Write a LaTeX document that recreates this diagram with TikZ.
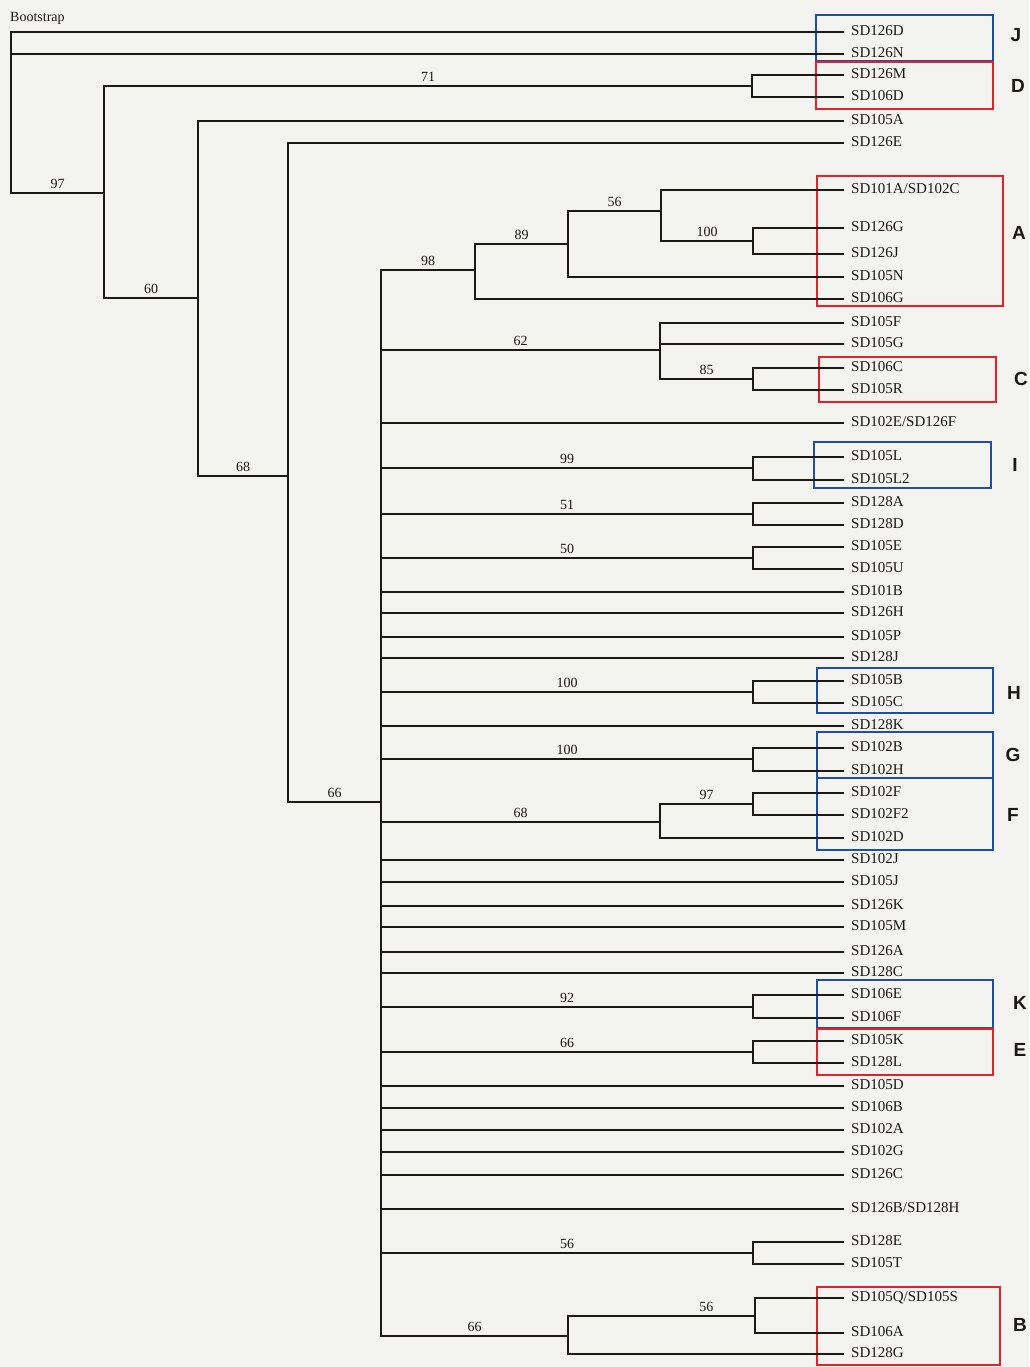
\documentclass[tikz,border=0pt]{standalone}
\usepackage{fontspec}
\setmainfont{Liberation Serif}
\setsansfont{Liberation Sans}
\definecolor{bg}{RGB}{243,244,240}
\definecolor{grpblue}{RGB}{35,78,160}
\definecolor{grpred}{RGB}{228,32,42}
\definecolor{ink}{RGB}{28,24,20}
\begin{document}
\begin{tikzpicture}[x=1pt,y=-1pt]
\tikzset{
  br/.style={draw=ink, line width=2.4pt, line cap=rect},
  leaf/.style={anchor=west, inner xsep=8pt, inner ysep=0pt, text height=0.66em, text depth=0pt, text=ink, font=\fontsize{15}{17}\selectfont},
  bs/.style={above, inner sep=3pt, text=ink, font=\fontsize{14}{16}\selectfont},
  grp/.style={text=ink, font=\sffamily\bfseries\fontsize{19}{21}\selectfont},
  bluebox/.style={draw=grpblue, line width=2.2pt},
  redbox/.style={draw=grpred, line width=2.2pt},
}
\useasboundingbox (0,0) rectangle (1029,1367);
\fill[bg] (0,0) rectangle (1029,1367);

\node[anchor=west, inner sep=0pt, text=ink, font=\fontsize{14}{16}\selectfont] (boot) at (10,18) {Bootstrap};

% group boxes
\draw[bluebox] (816,15) rectangle (993,61);
\draw[redbox]  (816,62) rectangle (993,109);
\draw[redbox]  (817,176) rectangle (1003,306);
\draw[redbox]  (819,357) rectangle (996,402);
\draw[bluebox] (814,442) rectangle (991,488);
\draw[bluebox] (817,668) rectangle (993,713);
\draw[bluebox] (817,732) rectangle (993,778);
\draw[bluebox] (817,778) rectangle (993,850);
\draw[bluebox] (817,980) rectangle (993,1028);
\draw[redbox]  (817,1029) rectangle (993,1075);
\draw[redbox]  (817,1287) rectangle (1000,1365);

\node[grp] (gJ) at (1016,35) {J};
\node[grp] (gD) at (1018,86) {D};
\node[grp] (gA) at (1019,233) {A};
\node[grp] (gC) at (1021,379) {C};
\node[grp] (gI) at (1015,465) {I};
\node[grp] (gH) at (1014,693) {H};
\node[grp] (gG) at (1013,755) {G};
\node[grp] (gF) at (1013,815) {F};
\node[grp] (gK) at (1020,1003) {K};
\node[grp] (gE) at (1020,1050) {E};
\node[grp] (gB) at (1020,1325) {B};

% internal nodes
\coordinate (root) at (11,32);
\coordinate (n97) at (104,193);
\coordinate (n71) at (752,86);
\coordinate (n60) at (198,298);
\coordinate (n68) at (288,476);
\coordinate (n66) at (381,802);
\coordinate (n98) at (475,270);
\coordinate (n89) at (568,244);
\coordinate (n56a) at (661,211);
\coordinate (n100a) at (753,241);
\coordinate (n62) at (660,350);
\coordinate (n85) at (753,379);
\coordinate (n99) at (753,468);
\coordinate (n51) at (753,514);
\coordinate (n50) at (753,558);
\coordinate (nH) at (753,692);
\coordinate (nG) at (753,759);
\coordinate (n68b) at (660,822);
\coordinate (n97b) at (753,804);
\coordinate (nK) at (753,1007);
\coordinate (nE) at (753,1052);
\coordinate (n56c) at (753,1253);
\coordinate (n66b) at (568,1336);
\coordinate (n56d) at (755,1316);

% leaves
\node[leaf] (SD126D) at (843,32) {SD126D};
\node[leaf] (SD126N) at (843,54) {SD126N};
\node[leaf] (SD126M) at (843,75) {SD126M};
\node[leaf] (SD106D) at (843,97) {SD106D};
\node[leaf] (SD105A) at (843,121) {SD105A};
\node[leaf] (SD126E) at (843,143) {SD126E};
\node[leaf] (SD101A) at (843,190) {SD101A/SD102C};
\node[leaf] (SD126G) at (843,228) {SD126G};
\node[leaf] (SD126J) at (843,254) {SD126J};
\node[leaf] (SD105N) at (843,277) {SD105N};
\node[leaf] (SD106G) at (843,299) {SD106G};
\node[leaf] (SD105F) at (843,323) {SD105F};
\node[leaf] (SD105G) at (843,344) {SD105G};
\node[leaf] (SD106C) at (843,368) {SD106C};
\node[leaf] (SD105R) at (843,390) {SD105R};
\node[leaf] (SD102E) at (843,423) {SD102E/SD126F};
\node[leaf] (SD105L) at (843,457) {SD105L};
\node[leaf] (SD105L2) at (843,480) {SD105L2};
\node[leaf] (SD128A) at (843,503) {SD128A};
\node[leaf] (SD128D) at (843,525) {SD128D};
\node[leaf] (SD105E) at (843,547) {SD105E};
\node[leaf] (SD105U) at (843,569) {SD105U};
\node[leaf] (SD101B) at (843,592) {SD101B};
\node[leaf] (SD126H) at (843,613) {SD126H};
\node[leaf] (SD105P) at (843,637) {SD105P};
\node[leaf] (SD128J) at (843,658) {SD128J};
\node[leaf] (SD105B) at (843,681) {SD105B};
\node[leaf] (SD105C) at (843,703) {SD105C};
\node[leaf] (SD128K) at (843,726) {SD128K};
\node[leaf] (SD102B) at (843,748) {SD102B};
\node[leaf] (SD102H) at (843,771) {SD102H};
\node[leaf] (SD102F) at (843,793) {SD102F};
\node[leaf] (SD102F2) at (843,815) {SD102F2};
\node[leaf] (SD102D) at (843,838) {SD102D};
\node[leaf] (SD102J) at (843,860) {SD102J};
\node[leaf] (SD105J) at (843,882) {SD105J};
\node[leaf] (SD126K) at (843,906) {SD126K};
\node[leaf] (SD105M) at (843,927) {SD105M};
\node[leaf] (SD126A) at (843,952) {SD126A};
\node[leaf] (SD128C) at (843,973) {SD128C};
\node[leaf] (SD106E) at (843,995) {SD106E};
\node[leaf] (SD106F) at (843,1018) {SD106F};
\node[leaf] (SD105K) at (843,1041) {SD105K};
\node[leaf] (SD128L) at (843,1063) {SD128L};
\node[leaf] (SD105D) at (843,1086) {SD105D};
\node[leaf] (SD106B) at (843,1108) {SD106B};
\node[leaf] (SD102A) at (843,1130) {SD102A};
\node[leaf] (SD102G) at (843,1152) {SD102G};
\node[leaf] (SD126C) at (843,1175) {SD126C};
\node[leaf] (SD126B) at (843,1209) {SD126B/SD128H};
\node[leaf] (SD128E) at (843,1242) {SD128E};
\node[leaf] (SD105T) at (843,1264) {SD105T};
\node[leaf] (SD105Q) at (843,1298) {SD105Q/SD105S};
\node[leaf] (SD106A) at (843,1333) {SD106A};
\node[leaf] (SD128G) at (843,1354) {SD128G};

% branches
\draw[br] (root) |- (SD126D);
\draw[br] (root) |- (SD126N);
\draw[br] (root) |- node[bs,pos=.75]{97} (n97);
\draw[br] (n97) |- node[bs,pos=.75]{71} (n71);
\draw[br] (n71) |- (SD126M);
\draw[br] (n71) |- (SD106D);
\draw[br] (n97) |- node[bs,pos=.75]{60} (n60);
\draw[br] (n60) |- (SD105A);
\draw[br] (n60) |- node[bs,pos=.75]{68} (n68);
\draw[br] (n68) |- (SD126E);
\draw[br] (n68) |- node[bs,pos=.75]{66} (n66);

\draw[br] (n66) |- node[bs,pos=.75]{98} (n98);
\draw[br] (n98) |- node[bs,pos=.75]{89} (n89);
\draw[br] (n98) |- (SD106G);
\draw[br] (n89) |- node[bs,pos=.75]{56} (n56a);
\draw[br] (n89) |- (SD105N);
\draw[br] (n56a) |- (SD101A);
\draw[br] (n56a) |- node[bs,pos=.75]{100} (n100a);
\draw[br] (n100a) |- (SD126G);
\draw[br] (n100a) |- (SD126J);

\draw[br] (n66) |- node[bs,pos=.75]{62} (n62);
\draw[br] (n62) |- (SD105F);
\draw[br] (n62) |- (SD105G);
\draw[br] (n62) |- node[bs,pos=.75]{85} (n85);
\draw[br] (n85) |- (SD106C);
\draw[br] (n85) |- (SD105R);

\draw[br] (n66) |- (SD102E);
\draw[br] (n66) |- node[bs,pos=.75]{99} (n99);
\draw[br] (n99) |- (SD105L);
\draw[br] (n99) |- (SD105L2);
\draw[br] (n66) |- node[bs,pos=.75]{51} (n51);
\draw[br] (n51) |- (SD128A);
\draw[br] (n51) |- (SD128D);
\draw[br] (n66) |- node[bs,pos=.75]{50} (n50);
\draw[br] (n50) |- (SD105E);
\draw[br] (n50) |- (SD105U);
\draw[br] (n66) |- (SD101B);
\draw[br] (n66) |- (SD126H);
\draw[br] (n66) |- (SD105P);
\draw[br] (n66) |- (SD128J);
\draw[br] (n66) |- node[bs,pos=.75]{100} (nH);
\draw[br] (nH) |- (SD105B);
\draw[br] (nH) |- (SD105C);
\draw[br] (n66) |- (SD128K);
\draw[br] (n66) |- node[bs,pos=.75]{100} (nG);
\draw[br] (nG) |- (SD102B);
\draw[br] (nG) |- (SD102H);
\draw[br] (n66) |- node[bs,pos=.75]{68} (n68b);
\draw[br] (n68b) |- node[bs,pos=.75]{97} (n97b);
\draw[br] (n97b) |- (SD102F);
\draw[br] (n97b) |- (SD102F2);
\draw[br] (n68b) |- (SD102D);
\draw[br] (n66) |- (SD102J);
\draw[br] (n66) |- (SD105J);
\draw[br] (n66) |- (SD126K);
\draw[br] (n66) |- (SD105M);
\draw[br] (n66) |- (SD126A);
\draw[br] (n66) |- (SD128C);
\draw[br] (n66) |- node[bs,pos=.75]{92} (nK);
\draw[br] (nK) |- (SD106E);
\draw[br] (nK) |- (SD106F);
\draw[br] (n66) |- node[bs,pos=.75]{66} (nE);
\draw[br] (nE) |- (SD105K);
\draw[br] (nE) |- (SD128L);
\draw[br] (n66) |- (SD105D);
\draw[br] (n66) |- (SD106B);
\draw[br] (n66) |- (SD102A);
\draw[br] (n66) |- (SD102G);
\draw[br] (n66) |- (SD126C);
\draw[br] (n66) |- (SD126B);
\draw[br] (n66) |- node[bs,pos=.75]{56} (n56c);
\draw[br] (n56c) |- (SD128E);
\draw[br] (n56c) |- (SD105T);
\draw[br] (n66) |- node[bs,pos=.75]{66} (n66b);
\draw[br] (n66b) |- node[bs,pos=.87]{56} (n56d);
\draw[br] (n56d) |- (SD105Q);
\draw[br] (n56d) |- (SD106A);
\draw[br] (n66b) |- (SD128G);
\end{tikzpicture}
\end{document}
